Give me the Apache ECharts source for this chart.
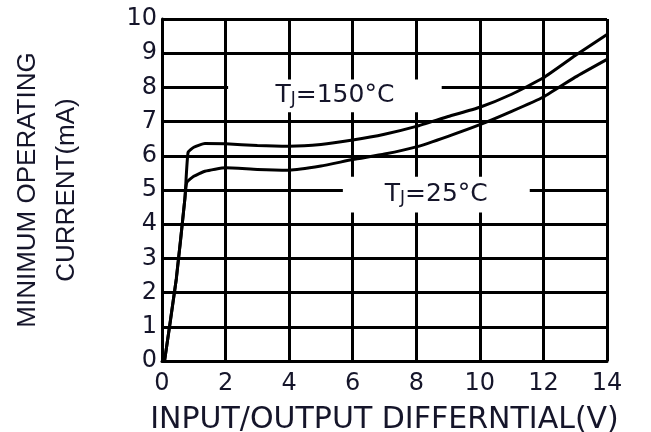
<!DOCTYPE html>
<html>
<head>
<meta charset="utf-8">
<script src="https://cdn.jsdelivr.net/npm/echarts@6/dist/echarts.min.js"></script>
<style>html,body{margin:0;padding:0;background:#fff;}#c{width:651px;height:432px;}</style>
</head>
<body>
<div id="c"></div>
<script>
// Data
const xTicks = [0, 2, 4, 6, 8, 10, 12, 14];
const yTicks = [0, 1, 2, 3, 4, 5, 6, 7, 8, 9, 10];
const x150 = [0.08, 0.45, 0.72, 0.82, 1.0, 1.35, 2, 3, 4, 5, 6, 7, 8, 9, 10, 11, 12, 13, 14];
const y150 = [0, 2.4, 4.75, 6.1, 6.25, 6.36, 6.35, 6.3, 6.28, 6.33, 6.46, 6.63, 6.86, 7.15, 7.42, 7.8, 8.28, 8.93, 9.55];
const x25 = [0.08, 0.45, 0.72, 0.78, 1.0, 1.35, 2, 3, 4, 5, 6, 7, 8, 9, 10, 11, 12, 13, 14];
const y25 = [0, 2.4, 4.75, 5.22, 5.4, 5.55, 5.65, 5.6, 5.58, 5.7, 5.89, 6.05, 6.26, 6.57, 6.91, 7.3, 7.72, 8.3, 8.82];
// label boxes (data units) that hide the grid behind the curve labels
const box150 = [[2.08, 8.23], [8.8, 7.27]];
const box25 = [[5.69, 5.39], [11.57, 4.34]];

const pairs = (xs, ys) => xs.map((x, i) => [x, ys[i]]);
const txtColor = '#15152a';
const rich = {
  a: { fontFamily: 'DejaVu Sans', fontSize: 25, color: txtColor },
  b: { fontFamily: 'DejaVu Sans', fontSize: 17, color: txtColor, padding: [8, 0, 0, 0] }
};

const chart = echarts.init(document.getElementById('c'), null, { renderer: 'canvas' });
chart.setOption({
  animation: false,
  backgroundColor: '#fff',
  grid: { left: 162, top: 19, width: 445, height: 342, containLabel: false, outerBoundsMode: 'none' },
  xAxis: {
    type: 'value', min: 0, max: 14, interval: 2,
    name: 'INPUT/OUTPUT DIFFERNTIAL(V)', nameLocation: 'middle', nameGap: 44,
    nameTextStyle: { fontFamily: 'DejaVu Sans', fontSize: 30, color: txtColor },
    axisLine: { show: true, lineStyle: { color: '#000', width: 3 } },
    axisTick: { show: false },
    axisLabel: { fontFamily: 'DejaVu Sans', fontSize: 24, color: txtColor, margin: 11 },
    splitLine: { show: true, lineStyle: { color: '#000', width: 3 } }
  },
  yAxis: {
    type: 'value', min: 0, max: 10, interval: 1,
    name: 'MINIMUM OPERATING\nCURRENT(mA)', nameLocation: 'middle', nameGap: 76, nameRotate: 90,
    nameTextStyle: { fontFamily: 'Liberation Sans', fontSize: 26, color: txtColor, lineHeight: 39 },
    axisLine: { show: true, lineStyle: { color: '#000', width: 3 } },
    axisTick: { show: false },
    axisLabel: { fontFamily: 'DejaVu Sans', fontSize: 24, color: txtColor, margin: 5 },
    splitLine: { show: true, lineStyle: { color: '#000', width: 3 } }
  },
  series: [
    {
      type: 'line', name: 'TJ=150°C', data: pairs(x150, y150), smooth: 0.15,
      showSymbol: false, lineStyle: { color: '#000', width: 3 },
      markArea: {
        silent: true,
        itemStyle: { color: '#fff', borderWidth: 0 },
        label: { show: true, position: 'inside', rich: rich, formatter: '{a|T}{b|J}{a|=150°C}' },
        data: [[{ coord: box150[0] }, { coord: box150[1] }]]
      }
    },
    {
      type: 'line', name: 'TJ=25°C', data: pairs(x25, y25), smooth: 0.15,
      showSymbol: false, lineStyle: { color: '#000', width: 3 },
      markArea: {
        silent: true,
        itemStyle: { color: '#fff', borderWidth: 0 },
        label: { show: true, position: 'inside', rich: rich, formatter: '{a|T}{b|J}{a|=25°C}' },
        data: [[{ coord: box25[0] }, { coord: box25[1] }]]
      }
    }
  ]
});
</script>
</body>
</html>
